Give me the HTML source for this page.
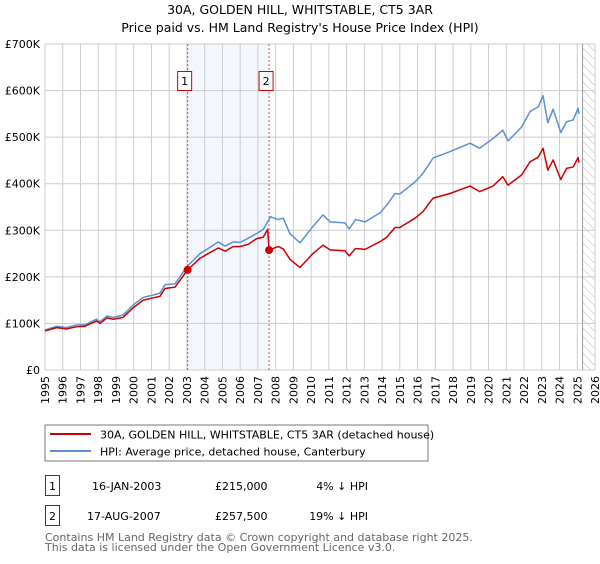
<!DOCTYPE html>
<html><head><meta charset="utf-8"><style>
body{margin:0;background:#fff;width:600px;height:560px;overflow:hidden;font-family:"DejaVu Sans","Liberation Sans",sans-serif;}
svg text{font-family:"DejaVu Sans","Liberation Sans",sans-serif;}
</style></head><body>
<svg id="chart" width="600" height="560" xmlns="http://www.w3.org/2000/svg">
<defs><pattern id="hatch" width="6" height="6" patternUnits="userSpaceOnUse" patternTransform="rotate(-45)"><line x1="0" y1="0" x2="0" y2="6" stroke="#bbb" stroke-width="1"/></pattern></defs>
<text x="300" y="14" text-anchor="middle" font-size="12.5">30A, GOLDEN HILL, WHITSTABLE, CT5 3AR</text>
<text x="300" y="32" text-anchor="middle" font-size="12.5">Price paid vs. HM Land Registry's House Price Index (HPI)</text>
<g id="plot"></g>
<rect x="45" y="425" width="383" height="36" fill="#fff" stroke="#777"/>
<line x1="50" y1="434" x2="91" y2="434" stroke="#cc0000" stroke-width="2"/>
<text x="100" y="438.5" font-size="11">30A, GOLDEN HILL, WHITSTABLE, CT5 3AR (detached house)</text>
<line x1="50" y1="451" x2="91" y2="451" stroke="#5b8fd6" stroke-width="2"/>
<text x="100" y="455.5" font-size="11">HPI: Average price, detached house, Canterbury</text>
<g>
<rect x="45.5" y="475.5" width="14" height="20" fill="#fff" stroke="#cc0000"/>
<text x="52.5" y="490" text-anchor="middle" font-size="11">1</text>
<text x="92" y="490" font-size="11">16-JAN-2003</text>
<text x="215" y="490" font-size="11">£215,000</text>
<text x="368" y="490" text-anchor="end" font-size="11">4% ↓ HPI</text></g>
<g>
<rect x="45.5" y="505.5" width="14" height="20" fill="#fff" stroke="#cc0000"/>
<text x="52.5" y="520" text-anchor="middle" font-size="11">2</text>
<text x="87" y="520" font-size="11">17-AUG-2007</text>
<text x="215" y="520" font-size="11">£257,500</text>
<text x="368" y="520" text-anchor="end" font-size="11">19% ↓ HPI</text></g>
<text x="45" y="541" font-size="11" fill="#666">Contains HM Land Registry data © Crown copyright and database right 2025.</text>
<text x="45" y="551" font-size="11" fill="#666">This data is licensed under the Open Government Licence v3.0.</text>
</svg>
<script>
const yearTicks=[1995,1996,1997,1998,1999,2000,2001,2002,2003,2004,2005,2006,2007,2008,2009,2010,2011,2012,2013,2014,2015,2016,2017,2018,2019,2020,2021,2022,2023,2024,2025,2026];
const valueTicks=[0,100,200,300,400,500,600,700];
const valueTickLabels=["£0","£100K","£200K","£300K","£400K","£500K","£600K","£700K"];
const hpiYears=[1995,1995.66,1996.2,1996.8,1997.25,1997.9,1998.1,1998.5,1998.85,1999.4,1999.98,2000.54,2001.1,2001.48,2001.76,2002.33,2003.0,2003.74,2004.2,2004.77,2005.15,2005.6,2006.0,2006.46,2006.93,2007.3,2007.72,2008.15,2008.43,2008.8,2009.37,2010.1,2010.67,2011.07,2011.9,2012.15,2012.5,2013.04,2013.9,2014.26,2014.73,2015.0,2015.86,2016.3,2016.87,2017.83,2018.96,2019.5,2020.25,2020.8,2021.1,2021.87,2022.34,2022.8,2023.07,2023.34,2023.64,2024.07,2024.4,2024.77,2025.05,2025.1];
const hpiValues=[86,94,91,97,97,109,104,116,113,118,140,156,161,165,183,185,222,250,261,275,266,275,274,283,293,302,329,323,326,293,273,308,333,318,316,303,323,318,338,354,379,378,404,422,455,469,487,476,497,515,492,522,555,565,589,531,560,510,533,537,562,550];
const priceYears=[1995,1995.66,1996.2,1996.8,1997.25,1997.9,1998.1,1998.5,1998.85,1999.4,1999.98,2000.54,2001.1,2001.48,2001.76,2002.33,2003.04,2003.74,2004.2,2004.77,2005.15,2005.6,2006.0,2006.46,2006.93,2007.3,2007.55,2007.63,2008.15,2008.43,2008.8,2009.37,2010.1,2010.67,2011.07,2011.9,2012.15,2012.5,2013.04,2013.9,2014.26,2014.73,2015.0,2015.86,2016.3,2016.87,2017.83,2018.96,2019.5,2020.25,2020.8,2021.1,2021.87,2022.34,2022.8,2023.07,2023.34,2023.64,2024.07,2024.4,2024.77,2025.05,2025.1];
const priceValues=[84,91,88,93,94,105,100,112,109,113,134,150,155,158,175,178,215,240,250,262,255,265,265,270,282,285,302,257.5,265,260,238,220,250,268,258,256,245,261,259,276,285,306,306,326,340,369,379,395,383,395,415,397,419,447,457,476,429,451,409,433,436,456,445];
const saleYears=[2003.04,2007.63];
const saleValues=[215,257.5];
const saleLabels=["1","2"];
const NS="http://www.w3.org/2000/svg";
const X0=45,X1=595,Y0=370,Y1=44;
const xs=y=>X0+(y-1995)/(2026-1995)*(X1-X0);
const ys=v=>Y0-v/700*(Y0-Y1);
const g=document.getElementById('plot');
function mk(t,a){const e=document.createElementNS(NS,t);for(const k in a)e.setAttribute(k,a[k]);g.appendChild(e);return e;}
let e;
e=mk('rect',{x:xs(saleYears[0]),y:Y1,width:xs(saleYears[1])-xs(saleYears[0]),height:Y0-Y1,fill:'#eef3fc',opacity:0.7});


e=mk('rect',{x:xs(2025.3),y:Y1,width:X1-xs(2025.3),height:Y0-Y1,fill:'url(#hatch)'});


yearTicks.forEach(yr=>{
 e=mk('line',{x1:xs(yr),x2:xs(yr),y1:Y1,y2:Y0,stroke:'#ccc','stroke-width':1});
 
 
 e=mk('text',{x:0,y:0,'font-size':11,'text-anchor':'end',transform:`translate(${xs(yr)+4},${Y0+6}) rotate(-90)`});
 e.textContent=yr;
 
 
});
valueTicks.forEach((v,i)=>{
 e=mk('line',{x1:X0,x2:X1,y1:ys(v),y2:ys(v),stroke:'#ccc','stroke-width':1});
 
 
 e=mk('text',{x:X0-5,y:ys(v)+4,'font-size':11,'text-anchor':'end'});
 e.textContent=valueTickLabels[i];
 
 
});
e=mk('line',{x1:xs(2025.3),x2:xs(2025.3),y1:Y1,y2:Y0,stroke:'#999','stroke-width':1});


saleYears.forEach((yr,i)=>{
 e=mk('line',{x1:xs(yr),x2:xs(yr),y1:Y1,y2:Y0,stroke:'#e05050','stroke-width':1,'stroke-dasharray':'2,2'});
 
 
 e=mk('rect',{x:xs(yr)-10,y:71.5,width:14,height:19,fill:'#fff',stroke:'#cc0000'});
 
 
 e=mk('text',{x:xs(yr)-3,y:85,'font-size':11,'text-anchor':'middle'});
 e.textContent=saleLabels[i];
 
 
});
e=mk('polyline',{points:hpiYears.map((y,i)=>xs(y)+','+ys(hpiValues[i])).join(' '),fill:'none',stroke:'#5b8fd6','stroke-width':1.5,'stroke-linejoin':'round'});


e=mk('polyline',{points:priceYears.map((y,i)=>xs(y)+','+ys(priceValues[i])).join(' '),fill:'none',stroke:'#cc0000','stroke-width':1.5,'stroke-linejoin':'round'});


saleYears.forEach((yr,i)=>{
 e=mk('circle',{cx:xs(yr),cy:ys(saleValues[i]),r:4,fill:'#cc0000'});
 
 
});
</script>
</body></html>
